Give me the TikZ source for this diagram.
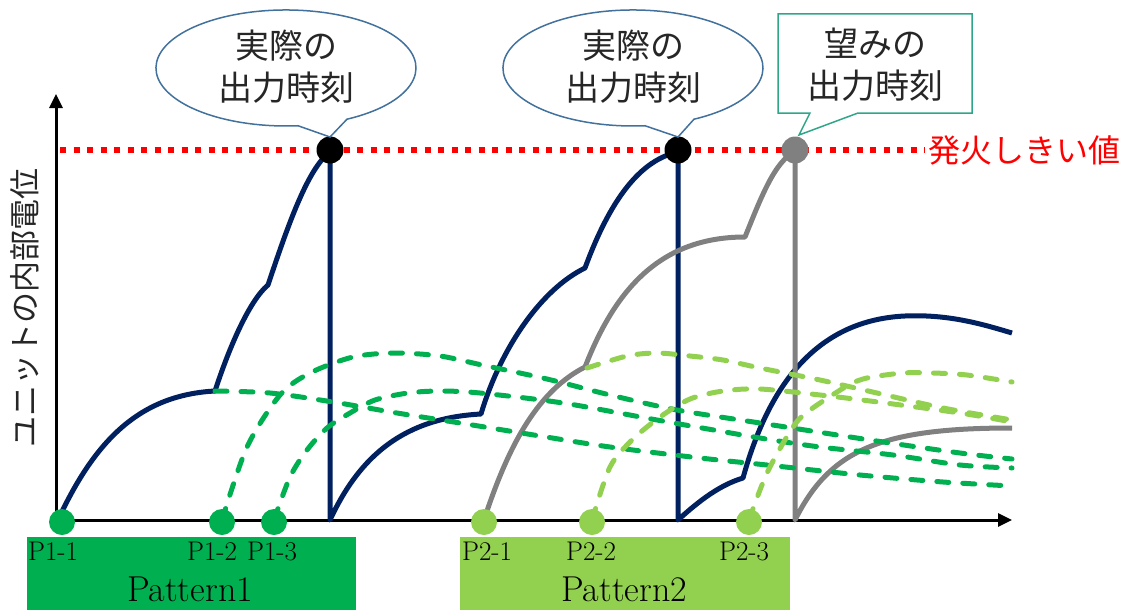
\documentclass[tikz,border=0pt]{standalone}
\usepackage{fontspec}
\newfontfamily\jp{Noto Sans CJK JP}
\usetikzlibrary{arrows.meta}
\definecolor{navy}{HTML}{002060}
\definecolor{dgreen}{HTML}{00B050}
\definecolor{lgreen}{HTML}{92D050}
\definecolor{gry}{HTML}{808080}
\definecolor{callblue}{HTML}{41719C}
\definecolor{callteal}{HTML}{2FA68A}
\definecolor{txt}{HTML}{262626}
\begin{document}
\begin{tikzpicture}[x=1pt,y=-1pt,
  axisline/.style={line width=3pt,-{Triangle[length=14pt,width=13pt]}},
  solidn/.style={navy,line width=5pt,line join=round},
  solidg/.style={gry,line width=5pt,line join=round},
  psp/.style={line width=5pt,line cap=round,dash pattern=on 12pt off 14pt},
  thr/.style={red,line width=6pt,dash pattern=on 6pt off 7.5pt},
  inputdot/.style={circle,inner sep=0pt,minimum size=26pt},
  firedot/.style={circle,inner sep=0pt,minimum size=27pt},
  plabel/.style={font=\fontsize{27}{30}\selectfont,inner sep=0pt},
  patlabel/.style={font=\fontsize{36}{40}\selectfont,inner sep=0pt},
  callout/.style={fill=white,line width=1.5pt,line join=miter},
  jtext/.style={font=\jp\fontsize{34}{42}\selectfont,text=txt,align=center,inner sep=0pt},
  ylab/.style={font=\jp\fontsize{31}{36}\selectfont,text=txt,inner sep=0pt,rotate=90}
]
\useasboundingbox (0,0) rectangle (1123,610);

% pattern boxes
\fill[dgreen] (27,537) rectangle (356,610);
\fill[lgreen] (460,537) rectangle (790,610);

% axes
\coordinate (O) at (56,520);
\coordinate (xend) at (1012,520);
\coordinate (yend) at (56,94);
\draw[axisline] (54.5,520) -- (xend);
\draw[axisline] (56,521.5) -- (yend);

% threshold
\coordinate (thA) at (60,150);
\coordinate (thB) at (925,150);
\draw[thr] (thA) -- (thB);
\node[anchor=west,text=red,font=\jp\fontsize{32}{36}\selectfont,inner sep=0pt] (thrlbl) at (928,150) {発火しきい値};

% y label
\node[ylab] (ylbl) at (25,308) {ユニットの内部電位};

% navy membrane potential (actual)
\draw[solidn] (58,520) .. controls (95,440) and (140,395) .. (215,391)
  .. controls (230,345) and (250,300) .. (268,285)
  .. controls (288,225) and (308,168) .. (330,152)
  -- (330,520)
  .. controls (360,455) and (405,418) .. (481,414)
  .. controls (500,350) and (540,290) .. (585,268)
  .. controls (610,200) and (640,160) .. (678,152)
  -- (678,520)
  .. controls (700,500) and (720,485) .. (743,478)
  .. controls (770,380) and (820,320) .. (905,316)
  .. controls (950,314) and (985,325) .. (1012,333);

% gray membrane potential (desired)
\draw[solidg] (484,520) .. controls (510,440) and (540,390) .. (585,367)
  .. controls (615,290) and (660,237) .. (745,237)
  .. controls (760,200) and (775,160) .. (795,152)
  -- (795,520)
  .. controls (830,450) and (880,428) .. (1012,428);

% individual PSPs pattern 1
\draw[psp,dgreen] plot[smooth] coordinates {(215,391) (270,393) (333,402) (397,413) (460,423) (540,436) (610,447) (700,458) (767,465) (860,475) (943,482) (1012,486)};
\draw[psp,dgreen] plot[smooth] coordinates {(222,520) (247,447) (280,395) (310,373) (353,357) (395,353) (440,356) (482,365) (547,379) (610,395) (677,410) (760,423) (870,440) (960,453) (1012,459)};
\draw[psp,dgreen] plot[smooth] coordinates {(274,520) (290,477) (307,450) (327,428) (350,413) (375,400) (408,393) (440,391) (480,393) (563,403) (657,420) (760,438) (820,447) (893,455) (960,465) (1012,468)};

% individual PSPs pattern 2
\draw[psp,lgreen] plot[smooth] coordinates {(587,368) (627,356) (657,353) (690,356) (723,360) (760,368) (820,380) (877,393) (943,408) (1012,420)};
\draw[psp,lgreen] plot[smooth] coordinates {(592,520) (610,467) (632,440) (660,417) (690,399) (723,391) (760,389) (820,395) (870,401) (960,413) (1012,422)};
\draw[psp,lgreen] plot[smooth] coordinates {(749,520) (767,473) (793,427) (810,410) (847,386) (867,378) (903,373) (933,373) (967,375) (1012,382)};

% input spikes
\node[inputdot,fill=dgreen] (p11) at (62,522) {};
\node[inputdot,fill=dgreen] (p12) at (222,522) {};
\node[inputdot,fill=dgreen] (p13) at (274,522) {};
\node[inputdot,fill=lgreen] (p21) at (484,522) {};
\node[inputdot,fill=lgreen] (p22) at (592,522) {};
\node[inputdot,fill=lgreen] (p23) at (749,522) {};

% firing points
\node[firedot,fill=black] (f1) at (330,150) {};
\node[firedot,fill=black] (f2) at (678,150) {};
\node[firedot,fill=gry] (f3) at (795,150) {};

% labels
\node[plabel] (l11) at (53,551) {P1-1};
\node[plabel] (l12) at (212,551) {P1-2};
\node[plabel] (l13) at (272,551) {P1-3};
\node[plabel] (l21) at (487,551) {P2-1};
\node[plabel] (l22) at (591,551) {P2-2};
\node[plabel] (l23) at (744,551) {P2-3};
\node[patlabel] (pat1) at (190,589) {Pattern1};
\node[patlabel] (pat2) at (624,589) {Pattern2};

% callouts
\draw[callout,draw=callblue] (347,119.2) arc[start angle=-62,end angle=275.3,x radius=130pt,y radius=58pt] -- (330,137) -- cycle;
\node[jtext] (c1) at (286,67) {実際の\\出力時刻};
\draw[callout,draw=callblue] (694,119.2) arc[start angle=-62,end angle=275.3,x radius=130pt,y radius=58pt] -- (678,137) -- cycle;
\node[jtext] (c2) at (633,67) {実際の\\出力時刻};
\draw[callout,draw=callteal] (858,113) -- (972,113) -- (972,14) -- (778,14) -- (778,113) -- (810,113) -- (799,135) -- cycle;
\node[jtext] (c3) at (875,65) {望みの\\出力時刻};
\end{tikzpicture}
\end{document}
